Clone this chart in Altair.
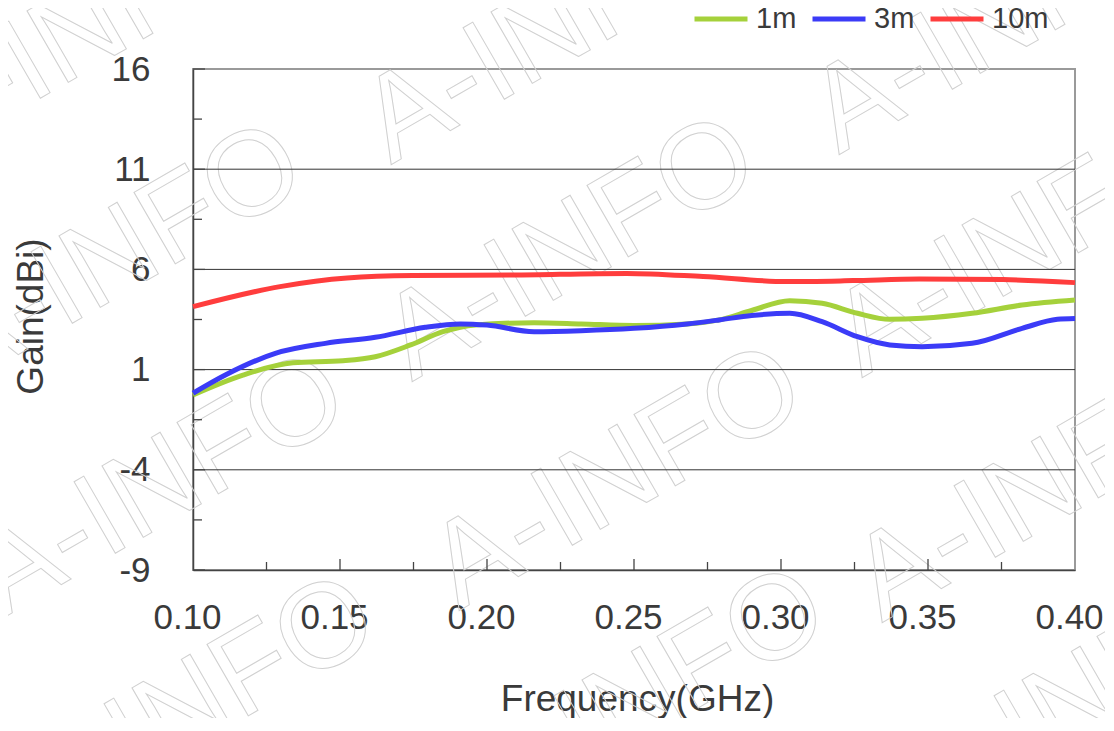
import altair as alt
import pandas as pd

# ---------------- data ----------------
series_names = ["1m", "3m", "10m"]
series_colors = ["#a5d13b", "#3b3bf7", "#ff3d3d"]

freq_1m = [0.100, 0.117, 0.134, 0.151, 0.162, 0.174, 0.185, 0.196, 0.216, 0.232,
           0.250, 0.268, 0.279, 0.290, 0.303, 0.314, 0.326, 0.337, 0.348, 0.365,
           0.382, 0.400]
gain_1m = [-0.26, 0.73, 1.34, 1.44, 1.64, 2.23, 2.89, 3.23, 3.34, 3.28,
           3.20, 3.28, 3.48, 3.95, 4.44, 4.31, 3.81, 3.51, 3.56, 3.81,
           4.22, 4.47]

freq_3m = [0.100, 0.111, 0.128, 0.145, 0.162, 0.179, 0.191, 0.200, 0.216, 0.232,
           0.250, 0.268, 0.279, 0.290, 0.303, 0.314, 0.326, 0.337, 0.348, 0.365,
           0.382, 0.394, 0.400]
gain_3m = [-0.18, 0.73, 1.81, 2.31, 2.61, 3.11, 3.28, 3.22, 2.89, 2.94,
           3.06, 3.28, 3.48, 3.70, 3.81, 3.39, 2.64, 2.23, 2.14, 2.31,
           3.06, 3.51, 3.55]

freq_10m = [0.100, 0.1296, 0.1524, 0.1748, 0.2088, 0.2476, 0.2735, 0.302,
            0.3245, 0.347, 0.3755, 0.400]
gain_10m = [4.14, 5.14, 5.57, 5.69, 5.72, 5.80, 5.64, 5.39,
            5.44, 5.52, 5.49, 5.34]

y_tick_labels = [-9, -4, 1, 6, 11, 16]
y_minor_ticks = [-6.5, -1.5, 3.5, 8.5, 13.5]
grid_values = [-4, 1, 6, 11]
x_tick_labels = [0.10, 0.15, 0.20, 0.25, 0.30, 0.35, 0.40]
x_major_ticks = [0.15, 0.20, 0.25, 0.30, 0.35]
x_minor_ticks = [0.125, 0.175, 0.225, 0.275, 0.325, 0.375]

watermark_text = "A-INFO"

# ---------------- tables ----------------
rows = []
for name, fs, gs in [("1m", freq_1m, gain_1m), ("3m", freq_3m, gain_3m), ("10m", freq_10m, gain_10m)]:
    for f, g in zip(fs, gs):
        rows.append({"series": name, "freq": f, "gain": g})
df = pd.DataFrame(rows)

W, H = 882, 501
FONT = "Liberation Sans"
AXIS_COLOR = "#444444"
TEXT_COLOR = "#3a3a3a"

x_scale = alt.Scale(domain=[0.1, 0.4], nice=False, zero=False)
y_scale = alt.Scale(domain=[-9, 16], nice=False, zero=False)

x_axis = alt.Axis(values=x_tick_labels, format=".2f", title="Frequency(GHz)",
                  grid=False, ticks=False, tickSize=0, labelPadding=30, labelOffset=-6,
                  labelFontSize=35, titleFontSize=37, labelOverlap=False, labelFlush=False,
                  labelBound=False, domainColor=AXIS_COLOR, domainWidth=1.5,
                  titleBaseline="alphabetic", titleX=444, titleY=140)
y_axis = alt.Axis(values=y_tick_labels, title="Gain(dBi)",
                  labelExpr="'' + datum.value",
                  grid=False, ticks=False, tickSize=0, labelPadding=43,
                  labelFontSize=35, titleFontSize=37, labelOverlap=False, labelFlush=False,
                  labelBound=False, domainColor=AXIS_COLOR, domainWidth=1.5,
                  titleBaseline="alphabetic", titleAngle=270, titleX=-151, titleY=247)

# watermark (decoration): centres relative to plot origin
wm_centres = [(85, 31), (549, 32), (997, 22),
              (117, 256), (570, 249), (1020, 245),
              (160, 486), (617, 478), (1040, 490),
              (190, 708), (640, 700), (1080, 700)]
ORIGIN = (193, 69)

one = pd.DataFrame({"k": [0]})
wm_layers = []
for cx, cy in wm_centres:
    wm_layers.append(
        alt.Chart(one).mark_text(
            font=FONT, fontSize=120, angle=330, align="center", baseline="middle",
            fill="white", fillOpacity=0, stroke="#d0d0d0", strokeWidth=1
        ).encode(x=alt.value(cx - ORIGIN[0]), y=alt.value(cy - ORIGIN[1]),
                 text=alt.value(watermark_text))
    )

grid = alt.Chart(pd.DataFrame({"g": grid_values})).mark_rule(
    color="#333333", strokeWidth=1
).encode(y=alt.Y("g:Q", scale=y_scale, axis=y_axis))

ytick_major = alt.Chart(pd.DataFrame({"t": y_tick_labels})).mark_rule(
    color=AXIS_COLOR, strokeWidth=1.3
).encode(y=alt.Y("t:Q", scale=y_scale, axis=y_axis), x=alt.value(0), x2=alt.value(12))

ytick_minor = alt.Chart(pd.DataFrame({"t": y_minor_ticks})).mark_rule(
    color=AXIS_COLOR, strokeWidth=1.3
).encode(y=alt.Y("t:Q", scale=y_scale, axis=y_axis), x=alt.value(0), x2=alt.value(9))

xtick_major = alt.Chart(pd.DataFrame({"t": x_major_ticks})).mark_rule(
    color=AXIS_COLOR, strokeWidth=1.3
).encode(x=alt.X("t:Q", scale=x_scale, axis=x_axis), y=alt.value(H), y2=alt.value(H - 11))

xtick_minor = alt.Chart(pd.DataFrame({"t": x_minor_ticks})).mark_rule(
    color=AXIS_COLOR, strokeWidth=1.3
).encode(x=alt.X("t:Q", scale=x_scale, axis=x_axis), y=alt.value(H), y2=alt.value(H - 8))

legend = alt.Legend(title=None, orient="none", legendX=499, legendY=-79,
                    direction="horizontal", symbolType="stroke", symbolSize=2809,
                    symbolStrokeWidth=5, labelFontSize=29, labelFont=FONT,
                    labelColor=TEXT_COLOR, labelOffset=6, columnPadding=5, padding=0)

lines = alt.Chart(df).mark_line(strokeWidth=5, interpolate="monotone").encode(
    x=alt.X("freq:Q", scale=x_scale, axis=x_axis),
    y=alt.Y("gain:Q", scale=y_scale, axis=y_axis),
    color=alt.Color("series:N", scale=alt.Scale(domain=series_names, range=series_colors),
                    legend=legend),
    detail="series:N",
)

chart = alt.layer(*wm_layers, grid, ytick_major, ytick_minor, xtick_major, xtick_minor, lines).properties(
    width=W, height=H,
    autosize=alt.AutoSizeParams(type="none"),
    padding={"left": 185, "top": 61, "right": 30, "bottom": 148},
    background="white",
).configure_view(
    stroke="#9a9a9a", strokeWidth=2
).configure_axis(
    labelFont=FONT, titleFont=FONT, labelColor=TEXT_COLOR, titleColor=TEXT_COLOR,
    titleFontWeight="normal"
)

chart.save("out.html", embed_options={"renderer": "svg", "actions": False})
